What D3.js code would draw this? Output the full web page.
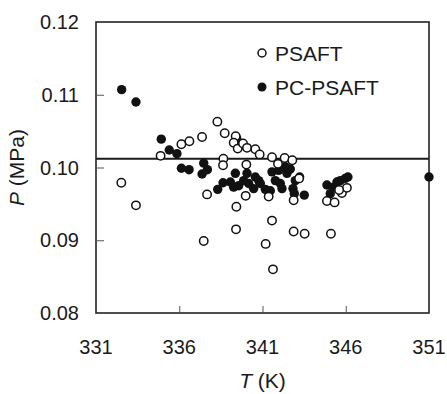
<!DOCTYPE html>
<html>
<head>
<meta charset="utf-8">
<script src="https://cdn.jsdelivr.net/npm/d3@7"></script>
<style>
  body { margin: 0; background: #fff; }
  text { font-family: "Liberation Sans", Arial, sans-serif; fill: #1a1a1a; }
</style>
</head>
<body>
<div id="chart"></div>
<script>
// values
var xTicks = [331, 336, 341, 346, 351];
var yTicks = [0.08, 0.09, 0.10, 0.11, 0.12];
var refP = 0.1012;

var psaftT = [332.52, 333.40, 334.88, 336.13, 336.61, 337.37, 338.29, 338.73, 338.65, 338.63,
  337.67, 337.47, 339.39, 339.27, 339.51, 339.83, 340.07, 340.57, 340.83, 340.03,
  339.99, 339.43, 339.41, 341.19, 341.63, 341.57, 341.37, 341.57, 341.93, 342.33,
  342.79, 342.87, 342.87, 343.53, 345.11, 344.87, 345.33, 345.77, 346.07, 345.60,
  343.20];
var psaftP = [0.0979, 0.0948, 0.1016, 0.1032, 0.1036, 0.1042, 0.1063, 0.1047, 0.1012, 0.1003,
  0.0963, 0.0899, 0.1043, 0.1034, 0.1026, 0.1033, 0.1027, 0.1025, 0.1018, 0.1004,
  0.0961, 0.0946, 0.0915, 0.0895, 0.0860, 0.0927, 0.0960, 0.1014, 0.1005, 0.1013,
  0.1010, 0.0955, 0.0912, 0.0909, 0.0909, 0.0954, 0.0952, 0.0965, 0.0972, 0.0969,
  0.0985];

var pcT = [332.54, 333.40, 334.92, 335.40, 335.86, 336.13, 336.59, 337.47, 337.37, 337.69,
  338.31, 338.63, 339.07, 339.37, 339.27, 339.57, 339.87, 340.07, 340.17, 340.47,
  340.57, 340.77, 340.87, 341.17, 341.47, 341.57, 341.77, 341.97, 342.07, 342.17,
  342.37, 342.47, 342.67, 342.83, 342.91, 342.97, 343.23, 343.51, 344.87, 345.07,
  345.27, 345.47, 345.67, 345.97, 346.13, 351.0, 339.45, 339.60];
var pcP = [0.1107, 0.1090, 0.1039, 0.1024, 0.1019, 0.0999, 0.0997, 0.1006, 0.0991, 0.0997,
  0.0970, 0.0979, 0.0980, 0.0992, 0.0973, 0.0975, 0.0982, 0.0992, 0.0978, 0.0971,
  0.0987, 0.0982, 0.0978, 0.0970, 0.0968, 0.0994, 0.0982, 0.0996, 0.0978, 0.0971,
  0.1001, 0.0992, 0.0998, 0.0971, 0.0964, 0.0982, 0.0987, 0.0962, 0.0976, 0.0964,
  0.0973, 0.0980, 0.0982, 0.0985, 0.0987, 0.0987, 0.1040, 0.1030];

var width = 447, height = 394,
    margin = {top: 22, right: 18, bottom: 81, left: 96},
    w = width - margin.left - margin.right,
    h = height - margin.top - margin.bottom;

var svg = d3.select("#chart").append("svg")
    .attr("width", width)
    .attr("height", height);

var g = svg.append("g").attr("transform", "translate(" + margin.left + "," + margin.top + ")");

var x = d3.scaleLinear().domain([331, 351]).range([0, w]);
var y = d3.scaleLinear().domain([0.08, 0.12]).range([h, 0]);

// frame
g.append("rect")
    .attr("width", w).attr("height", h)
    .attr("fill", "none")
    .attr("stroke", "#222")
    .attr("stroke-width", 1.6);

// inward ticks, labels drawn separately
g.append("g")
    .attr("transform", "translate(0," + h + ")")
    .call(d3.axisBottom(x).tickValues(xTicks.slice(1, -1)).tickSizeInner(-7).tickSizeOuter(0).tickFormat(""))
    .call(function(a) { a.select(".domain").remove(); a.selectAll("line").attr("stroke", "#555"); });

g.append("g")
    .call(d3.axisLeft(y).tickValues(yTicks.slice(1, -1)).tickSizeInner(-8).tickSizeOuter(0).tickFormat(""))
    .call(function(a) { a.select(".domain").remove(); a.selectAll("line").attr("stroke", "#555"); });

g.selectAll(".xlab").data(xTicks).enter().append("text")
    .attr("x", function(d) { return x(d); })
    .attr("y", h + 41)
    .attr("text-anchor", "middle")
    .style("font-size", "20px")
    .text(function(d) { return d; });

g.selectAll(".ylab").data(yTicks).enter().append("text")
    .attr("x", -17)
    .attr("y", function(d) { return y(d) + 7; })
    .attr("text-anchor", "end")
    .style("font-size", "20px")
    .text(function(d) { return d3.format(".2f")(d); });

// axis titles
var xt = g.append("text")
    .attr("x", w / 2)
    .attr("y", h + 75)
    .attr("text-anchor", "middle")
    .style("font-size", "21px");
xt.append("tspan").style("font-style", "italic").text("T");
xt.append("tspan").text(" (K)");

var yt = g.append("text")
    .attr("transform", "translate(" + (-72) + "," + (h / 2) + ") rotate(-90)")
    .attr("text-anchor", "middle")
    .style("font-size", "21px");
yt.append("tspan").style("font-style", "italic").text("P");
yt.append("tspan").text(" (MPa)");

// reference line
g.append("line")
    .attr("x1", 0).attr("x2", w)
    .attr("y1", y(refP)).attr("y2", y(refP))
    .attr("stroke", "#1a1a1a")
    .attr("stroke-width", 2.2);

// PC-PSAFT (filled)
g.selectAll(".pc").data(d3.range(pcT.length)).enter().append("circle")
    .attr("cx", function(i) { return x(pcT[i]); })
    .attr("cy", function(i) { return y(pcP[i]); })
    .attr("r", 4.7)
    .attr("fill", "#111");

// PSAFT (open)
g.selectAll(".ps").data(d3.range(psaftT.length)).enter().append("circle")
    .attr("cx", function(i) { return x(psaftT[i]); })
    .attr("cy", function(i) { return y(psaftP[i]); })
    .attr("r", 4.2)
    .attr("fill", "#fff")
    .attr("stroke", "#111")
    .attr("stroke-width", 1.5);

// legend
var leg = g.append("g").attr("transform", "translate(166,31)");
leg.append("circle").attr("r", 4).attr("fill", "#fff").attr("stroke", "#111").attr("stroke-width", 1.5);
leg.append("text").attr("x", 13).attr("y", 7.5).style("font-size", "21px").text("PSAFT");
leg.append("circle").attr("cy", 34).attr("r", 4.5).attr("fill", "#111");
leg.append("text").attr("x", 13).attr("y", 41.5).style("font-size", "21px").text("PC-PSAFT");
</script>
</body>
</html>
